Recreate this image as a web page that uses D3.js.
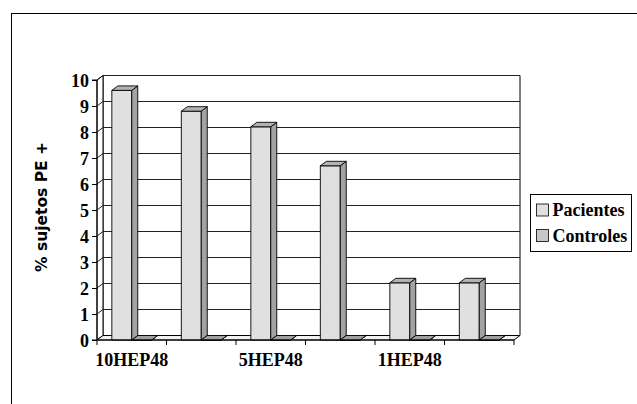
<!DOCTYPE html>
<html>
<head>
<meta charset="utf-8">
<script src="https://cdn.jsdelivr.net/npm/d3@7"></script>
<style>
  html, body { margin: 0; padding: 0; background: #fff; }
  svg { display: block; }
</style>
</head>
<body>
<svg id="chart" width="637" height="404"></svg>
<script>
// Percentage of subjects with a positive PE result, per condition
const categories = [0, 1, 2, 3, 4, 5];
const tickLabels = ["10HEP48", "", "5HEP48", "", "1HEP48", ""];
const seriesNames = ["Pacientes", "Controles"];
const pacientes = [9.6, 8.8, 8.2, 6.7, 2.2, 2.2];
const controles = [0, 0, 0, 0, 0, 0];
const yTicks = [0, 1, 2, 3, 4, 5, 6, 7, 8, 9, 10];

const SERIF = "Liberation Serif";
const svg = d3.select("#chart");
const W = 637, H = 404;

// projection offset used for the depth of walls and columns
const DX = 6, DY = -4.5;

const x = d3.scaleBand().domain(categories).range([97, 514]).paddingInner(0).paddingOuter(0);
const xs = d3.scaleBand().domain(seriesNames).range([0, x.bandwidth()]).paddingInner(0).paddingOuter(0.745);
const y = d3.scaleLinear().domain([0, 10]).range([340, 80]);

const colors = {
  Pacientes: { front: "#e0e0e0", side: "#a3a3a3", top: "#b2b2b2", swatch: "#e0e0e0" },
  Controles: { front: "#c4c4c4", side: "#8e8e8e", top: "#a0a0a0", swatch: "#c8c8c8" }
};

const serifText = sel => sel
  .style("font-family", SERIF)
  .style("font-weight", "bold")
  .style("font-size", "18px")
  .attr("fill", "#000");

// outer chart frame
svg.append("rect")
  .attr("x", 11.5).attr("y", 13.5)
  .attr("width", W).attr("height", H)
  .attr("fill", "#fff").attr("stroke", "#000").attr("stroke-width", 1);

const x0 = x.range()[0], x1 = x.range()[1];
const yTop = y(10), yBot = y(0);

const pts = p => p.map(d => d.join(",")).join(" ");

// back wall
svg.append("polygon")
  .attr("points", pts([[x0 + DX, yTop + DY], [x1 + DX, yTop + DY], [x1 + DX, yBot + DY], [x0 + DX, yBot + DY]]))
  .attr("fill", "#fff").attr("stroke", "#000").attr("stroke-width", 1);

// side wall
svg.append("polygon")
  .attr("points", pts([[x0, yTop], [x0 + DX, yTop + DY], [x0 + DX, yBot + DY], [x0, yBot]]))
  .attr("fill", "#fff").attr("stroke", "#000").attr("stroke-width", 1);

// gridlines on side and back walls
const grid = svg.append("g").attr("stroke", "#222").attr("stroke-width", 1).attr("fill", "none");
yTicks.filter(v => v > 0).forEach(v => {
  const yy = y(v);
  grid.append("polyline")
    .attr("points", pts([[x0, yy], [x0 + DX, yy + DY], [x1 + DX, yy + DY]]));
});

// floor
svg.append("polygon")
  .attr("points", pts([[x0, yBot], [x1, yBot], [x1 + DX, yBot + DY], [x0 + DX, yBot + DY]]))
  .attr("fill", "#f2f2f2").attr("stroke", "#000").attr("stroke-width", 1);

// 3D columns
const seriesData = [
  { name: "Pacientes", values: pacientes },
  { name: "Controles", values: controles }
];
const bars = svg.append("g").attr("stroke", "#000").attr("stroke-width", 0.9).attr("stroke-linejoin", "round");
categories.forEach((c, i) => {
  seriesData.forEach(s => {
    const bl = x(c) + xs(s.name);
    const br = bl + xs.bandwidth();
    const yt = y(s.values[i]);
    const col = colors[s.name];
    const g = bars.append("g");
    // front face
    g.append("polygon")
      .attr("points", pts([[bl, yBot], [br, yBot], [br, yt], [bl, yt]]))
      .attr("fill", col.front);
    // right face
    g.append("polygon")
      .attr("points", pts([[br, yBot], [br + DX, yBot + DY], [br + DX, yt + DY], [br, yt]]))
      .attr("fill", col.side);
    // top face
    g.append("polygon")
      .attr("points", pts([[bl, yt], [br, yt], [br + DX, yt + DY], [bl + DX, yt + DY]]))
      .attr("fill", col.top);
  });
});

// value axis
const yAxis = d3.axisLeft(y).tickValues(yTicks).tickSize(5).tickPadding(3).tickFormat(d3.format("d"));
const ya = svg.append("g").attr("transform", `translate(${x0},0)`).call(yAxis);
ya.select(".domain").attr("stroke", "#000").attr("d", `M-5,${yTop}H0V${yBot}H-5`);
ya.selectAll(".tick line").attr("stroke", "#000");
ya.selectAll(".tick text").call(serifText).attr("dy", "0.34em");

// category axis: boundary ticks plus labels at band centres
const xa = svg.append("g");
xa.append("line")
  .attr("x1", x0).attr("x2", x1).attr("y1", yBot).attr("y2", yBot)
  .attr("stroke", "#000");
const bounds = categories.map(c => x(c)).concat([x1]);
xa.selectAll("line.tk").data(bounds).join("line")
  .attr("class", "tk")
  .attr("x1", d => d).attr("x2", d => d)
  .attr("y1", yBot).attr("y2", yBot + 5)
  .attr("stroke", "#000");
xa.selectAll("text").data(categories).join("text")
  .call(serifText)
  .attr("x", c => x(c) + x.bandwidth() / 2)
  .attr("y", 366)
  .attr("text-anchor", "middle")
  .text((c, i) => tickLabels[i]);

// axis title
svg.append("text")
  .attr("transform", "translate(47,207) rotate(-90)")
  .attr("text-anchor", "middle")
  .style("font-family", "DejaVu Sans")
  .style("font-weight", "bold")
  .style("font-size", "15.5px")
  .text("% sujetos PE +");

// legend
const lg = svg.append("g").attr("transform", "translate(530.5,194.5)");
lg.append("rect").attr("width", 101).attr("height", 57)
  .attr("fill", "#fff").attr("stroke", "#000");
seriesNames.forEach((n, i) => {
  const row = lg.append("g").attr("transform", `translate(0,${i * 25.5})`);
  row.append("rect").attr("x", 6).attr("y", 9.5).attr("width", 12).attr("height", 12)
    .attr("fill", colors[n].swatch).attr("stroke", "#000").attr("stroke-width", 0.8);
  row.append("text").call(serifText).attr("x", 22).attr("y", 21.5)
    .text(n);
});
</script>
</body>
</html>
